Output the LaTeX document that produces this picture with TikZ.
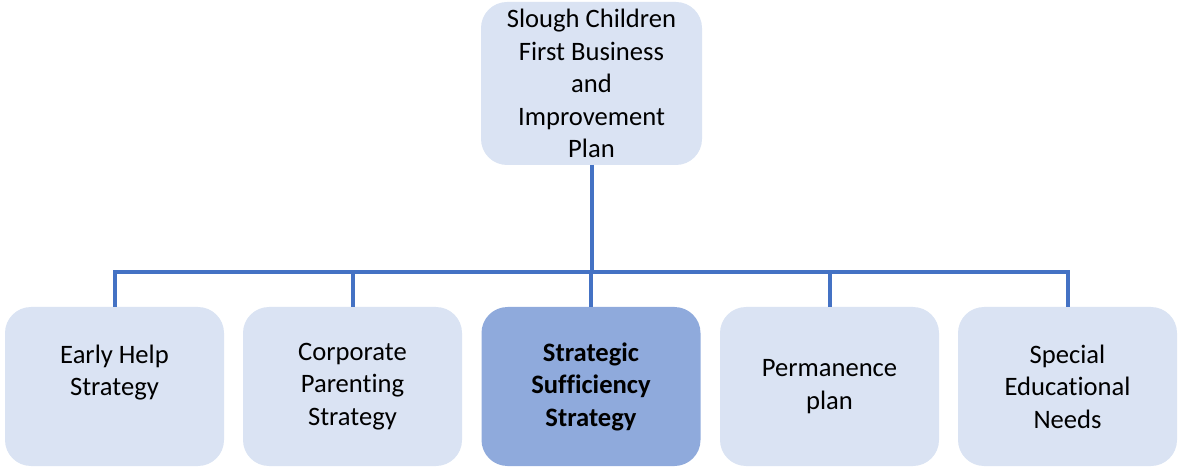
\documentclass[tikz,border=0pt]{standalone}
\usepackage{fontspec}
\setmainfont[Ligatures=NoCommon]{Carlito}
\definecolor{boxfill}{HTML}{DAE3F3}
\definecolor{keyfill}{HTML}{8FAADC}
\definecolor{linkblue}{HTML}{4472C4}
\begin{document}
\begin{tikzpicture}[x=0.5pt, y=-0.5pt,
  plan/.style={rectangle, rounded corners=13pt, fill=boxfill,
    minimum width=109.5pt, minimum height=79.5pt, inner sep=0pt, outer sep=0pt,
    align=center, font=\fontsize{13.3}{16.25}\selectfont},
  link/.style={draw=linkblue, line width=2pt}]
\useasboundingbox (0,0) rectangle (1178,470);

\node[plan, minimum width=110.5pt, minimum height=81.5pt] (top) at (591.5,83.5)
  {Slough Children\\First Business\\and\\Improvement\\Plan};

\node[plan] (help) at (114.5,386.5) {Early Help\\Strategy\\~};
\node[plan] (corp) at (352.5,386.5) {Corporate\\Parenting\\Strategy};
\node[plan, fill=keyfill, font=\fontsize{13.3}{16.25}\selectfont\bfseries] (suff) at (591,386.5)
  {Strategic\\Sufficiency\\Strategy};
\node[plan] (perm) at (829.5,386.5) {Permanence\\plan};
\node[plan] (send) at (1067.5,386.5) {Special\\Educational\\Needs};

\coordinate (bus) at (591.5,272);

\draw[link] (top.south) -- (bus);
\draw[link] (help.north) |- (bus) -- (send.north |- bus) -- (send.north);
\foreach \n in {corp, suff, perm}
  \draw[link] (\n.north) -- (\n.north |- bus);
\end{tikzpicture}
\end{document}
